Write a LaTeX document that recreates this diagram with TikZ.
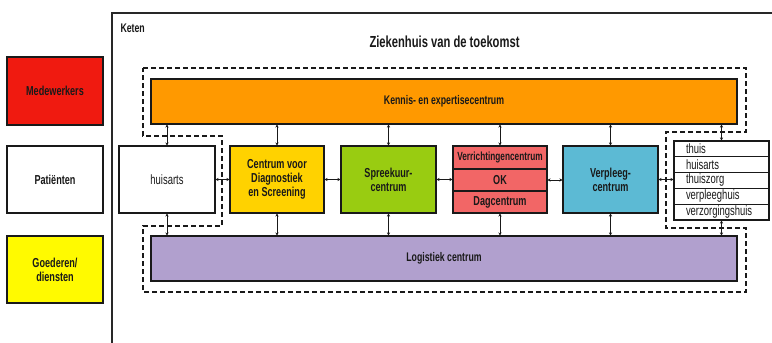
\documentclass[tikz,border=0pt]{standalone}
\usepackage{fontspec}
\setmainfont[FakeStretch=0.7]{Liberation Sans}
\usetikzlibrary{arrows.meta}

\definecolor{staffred}{RGB}{240,26,16}
\definecolor{goodsyellow}{RGB}{255,250,0}
\definecolor{knoworange}{RGB}{255,153,0}
\definecolor{diaggold}{RGB}{255,210,0}
\definecolor{consultgreen}{RGB}{153,204,17}
\definecolor{procpink}{RGB}{242,102,102}
\definecolor{nursecyan}{RGB}{92,186,212}
\definecolor{logpurple}{RGB}{177,160,206}
\definecolor{framegray}{RGB}{40,40,40}
\definecolor{inkdark}{RGB}{25,25,25}

\tikzset{
  box/.style={draw=inkdark, line width=1.1pt, rectangle, inner sep=0pt,
    align=center, font=\bfseries\fontsize{13}{14}\selectfont, text=inkdark},
  plainbox/.style={box, font=\fontsize{13.5}{15}\selectfont},
  listrow/.style={draw=inkdark, line width=1.1pt, rectangle, inner sep=0pt,
    minimum width=95pt, minimum height=15.8pt, text width=71pt, align=left,
    font=\fontsize{13.5}{14}\selectfont, text=inkdark},
  link/.style={line width=0.8pt, draw=inkdark,
    {Stealth[length=3pt,width=3.2pt]}-{Stealth[length=3pt,width=3.2pt]}},
  zone/.style={dashed, dash pattern=on 5pt off 3pt, line width=1.2pt, draw=inkdark}
}

\begin{document}
\begin{tikzpicture}[x=1pt,y=-1pt]
\useasboundingbox[fill=white] (0,0) rectangle (772,343);

% outer chain frame
\draw[line width=1.2pt, framegray] (112,345) -- (112,13) -- (774,13);
\node[anchor=west, font=\bfseries\fontsize{12.5}{14}\selectfont, text=inkdark] (keten) at (117,28) {Keten};
\node[font=\bfseries\fontsize{16}{18}\selectfont, text=inkdark] (title) at (444.5,42) {Ziekenhuis van de toekomst};

% legend
\node[box, fill=staffred, minimum width=96pt, minimum height=68pt] (staff) at (55,91) {Medewerkers};
\node[box, fill=white, minimum width=96pt, minimum height=67pt] (patients) at (55,179.5) {Patiënten};
\node[box, fill=goodsyellow, minimum width=96pt, minimum height=67pt] (goods) at (55,269.5) {Goederen/\\diensten};

% dashed hospital zone
\draw[zone] (143,68) -- (746,68) -- (746,132) -- (666,132) -- (666,228) -- (746,228)
  -- (746,292) -- (143,292) -- (143,226) -- (222,226) -- (222,136) -- (143,136) -- cycle;

% horizontal bars
\node[box, fill=knoworange, minimum width=586pt, minimum height=45pt,
  font=\bfseries\fontsize{12.5}{14}\selectfont] (know) at (444,101.5) {Kennis- en expertisecentrum};
\node[box, fill=logpurple, minimum width=586pt, minimum height=45pt,
  font=\bfseries\fontsize{12.5}{14}\selectfont] (logi) at (444,258.5) {Logistiek centrum};

% care units
\node[plainbox, fill=white, minimum width=96pt, minimum height=67pt] (gp) at (167,179.5) {huisarts};
\node[box, fill=diaggold, minimum width=94pt, minimum height=67pt] (diag) at (277,179.5) {Centrum voor\\Diagnostiek\\en Screening};
\node[box, fill=consultgreen, minimum width=95pt, minimum height=67pt] (consult) at (388.5,179.5) {Spreekuur-\\centrum};
\node[box, fill=procpink, minimum width=94pt, minimum height=23pt,
  font=\bfseries\fontsize{11.8}{13}\selectfont] (proc) at (500,157.5) {Verrichtingencentrum};
\node[box, fill=procpink, minimum width=94pt, minimum height=22pt] (ok) at (500,180) {OK};
\node[box, fill=procpink, minimum width=94pt, minimum height=22pt] (day) at (500,202) {Dagcentrum};
\node[box, fill=nursecyan, minimum width=95pt, minimum height=67pt] (nurse) at (610.5,179.5) {Verpleeg-\\centrum};

% after-care list
\node[listrow] (home) at (721.5,148.9) {thuis};
\node[listrow] (gp2) at (721.5,164.7) {huisarts};
\node[listrow] (homecare) at (721.5,180.5) {thuiszorg};
\node[listrow] (nhome) at (721.5,196.3) {verpleeghuis};
\node[listrow] (chome) at (721.5,212.1) {verzorgingshuis};

% links to the knowledge centre
\foreach \n in {gp,diag,consult,proc,nurse,home}
  \draw[link] (know.south -| \n.north) -- (\n.north);
% links to logistics
\foreach \n in {gp,diag,consult,day,nurse,chome}
  \draw[link] (\n.south) -- (logi.north -| \n.south);

% links between units
\draw[link] (gp.east) -- (diag.west);
\draw[link] (diag.east) -- (consult.west);
\draw[link] (consult.east) -- (consult.east -| ok.west);
\draw[link] (ok.east) -- (ok.east -| nurse.west);
\draw[link] (nurse.east) -- (nurse.east -| homecare.west);
\end{tikzpicture}
\end{document}
